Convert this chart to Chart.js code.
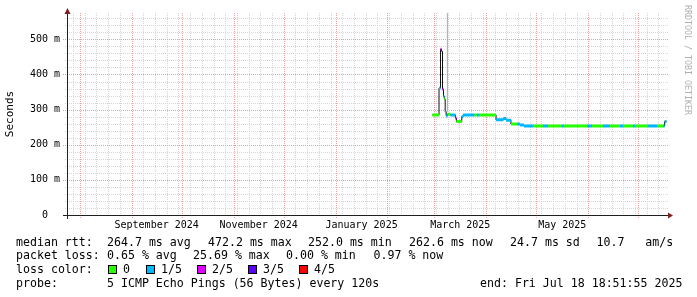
<!DOCTYPE html>
<html>
<head>
<meta charset="utf-8">
<script src="https://cdn.jsdelivr.net/npm/chart.js@4.4.1/dist/chart.umd.min.js"></script>
<style>
  html, body { margin: 0; padding: 0; background: #fff; }
  #wrap { position: relative; width: 697px; height: 297px; overflow: hidden; }
  #chart { position: absolute; left: 0; top: 0; }
  .txt { position: absolute; font-family: "DejaVu Sans Mono", monospace; font-size: 11.6px; line-height: 14px; color: #000; white-space: pre; }
  .box { position: absolute; width: 7px; height: 7px; border: 1px solid #000; }
</style>
</head>
<body>
<div id="wrap">
  <canvas id="chart" width="697" height="297"></canvas>
</div>
<script>
// x values are days since 1 Aug 2024, y values are milliseconds
const viewStart = -7.6;
const viewEnd = 352.3;

const yTicks = [0, 100, 200, 300, 400, 500];
const yTickLabels = ['0  ', '100 m', '200 m', '300 m', '400 m', '500 m'];
const yMax = 575;

const monthStarts = [0, 31, 61, 92, 122, 153, 184, 212, 243, 273, 304, 334];
const monthLabelDays = [46, 107, 168.5, 227.5, 288.5];
const monthLabels = ['September 2024', 'November 2024', 'January 2025', 'March 2025', 'May 2025'];
const firstSunday = -4;

// median rtt as steps: start day, end day, median (ms), lost pings out of 5
const segStart = [210.8, 214.8, 215.69, 216.29, 216.89, 217.49, 218.0, 218.5, 219.1, 219.8, 221.6,
                  224.6, 225.2, 228.4, 229.2, 236.0, 237.5, 239.0, 248.9, 253.3, 254.9,
                  257.8, 261.5, 263.2, 265.6, 271.0, 277.0, 280.0, 288.3, 289.5, 303.3,
                  306.3, 312.8, 317.0, 323.0, 324.8, 330.8, 332.0, 339.8, 345.2, 348.8, 349.7];
const segEnd   = [214.8, 215.69, 216.29, 216.89, 217.49, 218.0, 218.5, 219.1, 219.8, 221.6, 224.6,
                  225.2, 228.4, 229.2, 236.0, 237.5, 239.0, 248.9, 253.3, 254.9, 257.8,
                  261.5, 263.2, 265.6, 271.0, 277.0, 280.0, 288.3, 289.5, 303.3, 306.3,
                  312.8, 317.0, 323.0, 324.8, 330.8, 332.0, 339.8, 345.2, 348.8, 349.7, 350.8];
const segMs    = [285, 361, 472, 466, 358, 338, 330, 294, 282, 287, 285,
                  276, 266, 280, 285, 285, 285, 285, 271, 275, 270,
                  259, 259, 256, 253, 253, 253, 253, 253, 253, 253,
                  253, 253, 253, 253, 253, 253, 253, 253, 253, 253, 266];
const segLoss  = [0, 1, 2, 0, 2, 1, 0, 1, 1, 0, 1,
                  2, 0, 1, 1, 0, 1, 0, 1, 1, 1,
                  0, 1, 1, 1, 0, 1, 0, 1, 0, 1,
                  0, 1, 0, 1, 0, 1, 0, 1, 0, 1, 1];

// ping spread ("smoke")
const smokeDay = [219.8];
const smokeLow = [294];
const smokeHigh = [640];

const lossLabels = ['0', '1/5', '2/5', '3/5', '4/5'];
const lossColors = ['#26ff00', '#00b8ff', '#dd00ff', '#5e00ff', '#ff0000'];

const rttStats = ['264.7 ms avg', '472.2 ms max', '252.0 ms min', '262.6 ms now', '24.7 ms sd', '10.7   am/s'];
const lossStats = ['0.65 % avg', '25.69 % max', '0.00 % min', '0.97 % now'];
const probeText = '5 ICMP Echo Pings (56 Bytes) every 120s';
const endText = 'end: Fri Jul 18 18:51:55 2025';

// colours
const minorGrid = '#d6d6d6';
const majorGrid = '#eaa0a0';
const axisColor = '#1f1f1f';
const arrowColor = '#801f1f';

const datasets = [];
lossColors.forEach((col, lvl) => {
    const pts = [];
    segStart.forEach((s, i) => {
        if (segLoss[i] !== lvl) return;
        // the top of the spike is plain median line, no band
        if (i === 3) return;
        pts.push({x: s, y: segMs[i]}, {x: segEnd[i], y: segMs[i]}, {x: segEnd[i], y: null});
    });
    datasets.push({label: lossLabels[lvl], data: pts, borderColor: col, borderWidth: 3,
                   pointRadius: 0, spanGaps: false, order: 1});
});
const medianPts = segStart.map((s, i) => ({x: s, y: segMs[i]}));
medianPts.push({x: segEnd[segEnd.length - 1], y: segMs[segMs.length - 1]});
datasets.push({label: 'median', data: medianPts, borderColor: '#101010', borderWidth: 1,
               stepped: true, pointRadius: 0, order: 2});
smokeDay.forEach((d, i) => {
    datasets.push({label: 'smoke', data: [{x: d, y: smokeLow[i]}, {x: d, y: smokeHigh[i]}],
                   borderColor: '#a8a8a8', borderWidth: 1, pointRadius: 0, order: 3});
});

const rrdFrame = {
    id: 'rrdFrame',
    beforeDatasetsDraw(chart) {
        const {ctx, chartArea: a, scales: {x, y}} = chart;
        const majorX = monthStarts.map(d => Math.round(x.getPixelForValue(d)));
        const hline = (v, x0) => {
            const py = Math.round(y.getPixelForValue(v)) + 0.5;
            ctx.beginPath(); ctx.moveTo(x0, py); ctx.lineTo(a.right, py); ctx.stroke();
        };
        const vline = (d, y1) => {
            const px = Math.round(x.getPixelForValue(d)) + 0.5;
            ctx.beginPath(); ctx.moveTo(px, a.top); ctx.lineTo(px, y1); ctx.stroke();
        };
        ctx.save();
        ctx.lineWidth = 1;
        ctx.setLineDash([1, 1]);
        ctx.strokeStyle = minorGrid;
        for (let v = 20; v <= yMax; v += 20) if (v % 100) hline(v, a.left - 2);
        for (let d = firstSunday; d <= viewEnd; d += 7) {
            const p = Math.round(x.getPixelForValue(d));
            if (!majorX.some(m => Math.abs(m - p) < 2)) vline(d, a.bottom + 2);
        }
        ctx.strokeStyle = majorGrid;
        yTicks.forEach(v => { if (v > 0) hline(v, a.left - 4); });
        monthStarts.forEach(d => vline(d, a.bottom + 3));
        ctx.restore();
    },
    afterDatasetsDraw(chart) {
        const {ctx, chartArea: a} = chart;
        ctx.save();
        ctx.strokeStyle = axisColor;
        ctx.lineWidth = 1;
        ctx.beginPath();
        ctx.moveTo(a.left - 4, a.bottom + 0.5); ctx.lineTo(a.right, a.bottom + 0.5);
        ctx.moveTo(a.left + 0.5, a.bottom + 4); ctx.lineTo(a.left + 0.5, a.top);
        ctx.stroke();
        ctx.fillStyle = arrowColor;
        ctx.beginPath();
        ctx.moveTo(a.right - 1, a.bottom - 2.5); ctx.lineTo(a.right - 1, a.bottom + 3.5); ctx.lineTo(a.right + 4, a.bottom + 0.5);
        ctx.closePath(); ctx.fill();
        ctx.beginPath();
        ctx.moveTo(a.left - 2.5, a.top + 1); ctx.lineTo(a.left + 3.5, a.top + 1); ctx.lineTo(a.left + 0.5, a.top - 5);
        ctx.closePath(); ctx.fill();
        // watermark
        ctx.translate(687, 5);
        ctx.rotate(Math.PI / 2);
        ctx.fillStyle = '#b0b0b0';
        ctx.font = '8.3px "DejaVu Sans Mono"';
        ctx.textBaseline = 'middle';
        ctx.fillText('RRDTOOL / TOBI OETIKER', 0, 0);
        ctx.restore();
    }
};

const tickFont = {family: 'DejaVu Sans Mono', size: 10};

new Chart(document.getElementById('chart'), {
    type: 'line',
    data: {datasets: datasets},
    options: {
        responsive: false,
        animation: false,
        events: [],
        layout: {padding: {left: 0, top: 13, right: 28, bottom: 0}},
        plugins: {legend: {display: false}, tooltip: {enabled: false}},
        scales: {
            x: {
                type: 'linear', min: viewStart, max: viewEnd,
                afterBuildTicks: s => { s.ticks = monthLabelDays.map(v => ({value: v})); },
                afterFit: s => { s.height = 82; },
                grid: {display: false, drawTicks: false},
                border: {display: false},
                ticks: {autoSkip: false, maxRotation: 0, minRotation: 0, padding: 4, font: tickFont, color: '#000',
                        callback: (v, i) => monthLabels[i]}
            },
            y: {
                type: 'linear', min: 0, max: yMax,
                afterBuildTicks: s => { s.ticks = yTicks.map(v => ({value: v})); },
                afterFit: s => { s.width = 67; },
                grid: {display: false, drawTicks: false},
                border: {display: false},
                ticks: {padding: 7, font: tickFont, color: '#000', callback: (v, i) => yTickLabels[i]},
                title: {display: true, text: 'Seconds', color: '#000',
                        font: {family: 'DejaVu Sans Mono', size: 11}, padding: {top: 4, bottom: 0}}
            }
        }
    },
    plugins: [rrdFrame]
});

// text legend under the graph
const wrap = document.getElementById('wrap');
function addText(str, left, top) {
    const el = document.createElement('div');
    el.className = 'txt';
    el.textContent = str;
    el.style.left = left + 'px';
    el.style.top = top + 'px';
    wrap.appendChild(el);
}
const lineTops = [234.5, 248, 262, 276];
const rttCols = [107, 208, 308, 409, 510, 596.5];
const lossCols = [107, 193, 286, 373.5];
const boxCols = [108, 146, 197, 248, 299];

addText('median rtt:', 16, lineTops[0]);
rttStats.forEach((t, i) => addText(t, rttCols[i], lineTops[0]));
addText('packet loss:', 16, lineTops[1]);
lossStats.forEach((t, i) => addText(t, lossCols[i], lineTops[1]));
addText('loss color:', 16, lineTops[2]);
lossLabels.forEach((t, i) => {
    const b = document.createElement('div');
    b.className = 'box';
    b.style.left = boxCols[i] + 'px';
    b.style.top = (lineTops[2] + 2.5) + 'px';
    b.style.background = lossColors[i];
    wrap.appendChild(b);
    addText(t, boxCols[i] + 15, lineTops[2]);
});
addText('probe:', 16, lineTops[3]);
addText(probeText, 107, lineTops[3]);
addText(endText, 480, lineTops[3]);
</script>
</body>
</html>
